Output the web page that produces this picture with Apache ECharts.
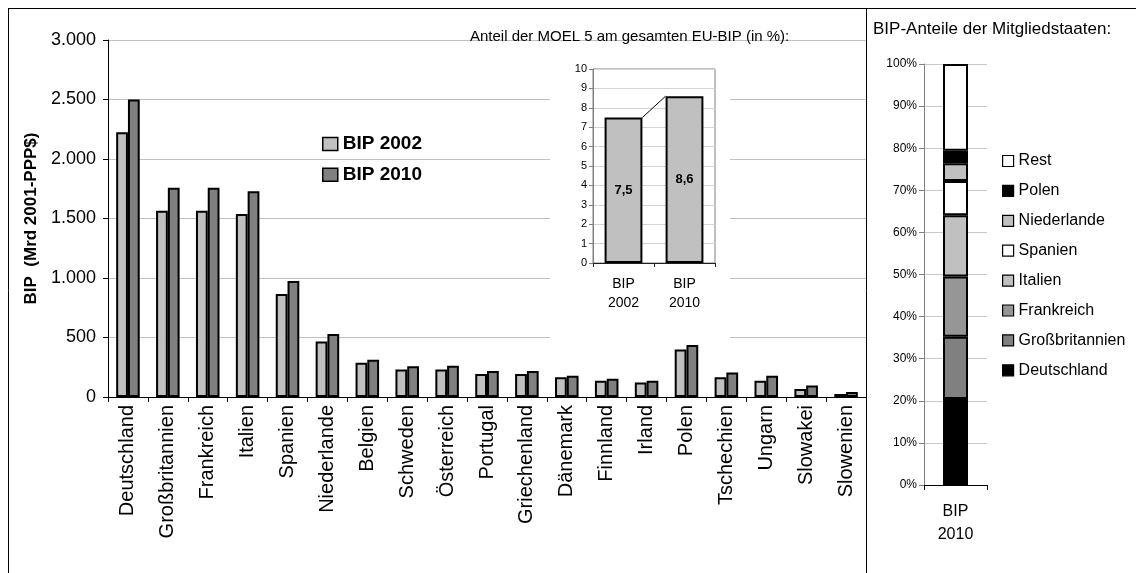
<!DOCTYPE html>
<html>
<head>
<meta charset="utf-8">
<script src="https://cdn.jsdelivr.net/npm/echarts@6/dist/echarts.min.js"></script>
<style>
html,body{margin:0;padding:0;background:#fff;}
#chart{width:1136px;height:573px;}
</style>
</head>
<body>
<div id="chart"></div>
<script>
// ---- data ----
const categories = ['Deutschland','Großbritannien','Frankreich','Italien','Spanien','Niederlande','Belgien','Schweden','Österreich','Portugal','Griechenland','Dänemark','Finnland','Irland','Polen','Tschechien','Ungarn','Slowakei','Slowenien'];
const bip2002 = [2225,1566,1566,1538,865,466,287,231,231,193,193,167,136,122,399,167,136,67,25];
const bip2010 = [2500,1759,1759,1730,974,530,312,259,262,218,218,178,153,136,438,206,178,97,42];
const seriesNames = ['BIP 2002','BIP 2010'];

const insetTitle = 'Anteil der MOEL 5 am gesamten EU-BIP (in %):';
const insetCategories = ['BIP\n2002','BIP\n2010'];
const insetValues = [7.5, 8.6];

const shareTitle = 'BIP-Anteile der Mitgliedstaaten:';
const shareCategory = ['BIP\n2010'];
const shareNames = ['Deutschland','Großbritannien','Frankreich','Italien','Spanien','Niederlande','Polen','Rest'];
const shareValues = [20.4,14.8,14.3,14.6,8.1,4.2,3.0,20.6];
const shareColors = ['#000000','#808080','#969696','#c0c0c0','#ffffff','#c0c0c0','#000000','#ffffff'];

const yAxisName = 'BIP  (Mrd 2001-PPP$)';

// ---- chart ----
const FONT = '"Liberation Sans", Arial, sans-serif';
const chart = echarts.init(document.getElementById('chart'), null, {renderer:'canvas'});
const insetGap = 0.38;

const shareSeries = shareNames.map((n, i) => ({
  name: n,
  type: 'bar',
  stack: 'share',
  xAxisIndex: 2,
  yAxisIndex: 2,
  barWidth: 25,
  data: [shareValues[i]],
  itemStyle: {color: shareColors[i], borderColor: '#000', borderWidth: 2},
  emphasis: {disabled: true}
}));

const option = {
  animation: false,
  backgroundColor: '#fff',
  textStyle: {fontFamily: FONT, color: '#000'},
  title: [
    {text: insetTitle, left: 465, top: 24, textStyle: {fontFamily: FONT, fontSize: 15, fontWeight: 'normal', color: '#000'}},
    {text: shareTitle, left: 868, top: 16, textStyle: {fontFamily: FONT, fontSize: 17, fontWeight: 'normal', color: '#000'}}
  ],
  legend: [
    {
      data: seriesNames, orient: 'vertical', left: 317, top: 129,
      itemWidth: 15, itemHeight: 13, itemGap: 10.7, icon: 'rect',
      selectedMode: false,
      itemStyle: {borderWidth: 1.5},
      textStyle: {fontFamily: FONT, fontSize: 19, fontWeight: 'bold', color: '#000', lineHeight: 20}
    },
    {
      data: shareNames.slice().reverse(), orient: 'vertical', left: 997, top: 148,
      itemWidth: 11, itemHeight: 11, itemGap: 13.9, icon: 'rect',
      selectedMode: false,
      itemStyle: {borderWidth: 1.2},
      textStyle: {fontFamily: FONT, fontSize: 16, color: '#000', lineHeight: 16}
    }
  ],
  grid: [
    {left: 108, top: 40, width: 758, height: 357},
    {left: 593, top: 69, width: 122, height: 194, show: true, borderColor: '#808080', borderWidth: 1, backgroundColor: 'rgba(0,0,0,0)', z: 5},
    {left: 924, top: 64, width: 63, height: 421}
  ],
  xAxis: [
    {
      type: 'category', gridIndex: 0, data: categories, z: 0,
      axisLine: {lineStyle: {color: '#000', width: 1}},
      axisTick: {show: true, length: 5, interval: 0, lineStyle: {color: '#000'}},
      axisLabel: {interval: 0, rotate: 90, fontSize: 20, margin: 8, color: '#000', fontFamily: FONT},
      splitLine: {show: false}
    },
    {
      type: 'category', gridIndex: 1, data: insetCategories, z: 6,
      axisLine: {lineStyle: {color: '#202020', width: 1}},
      axisTick: {show: true, length: 4, interval: 0, lineStyle: {color: '#202020'}},
      axisLabel: {interval: 0, fontSize: 14, lineHeight: 19, margin: 12, color: '#000', fontFamily: FONT},
      splitLine: {show: false}
    },
    {
      type: 'category', gridIndex: 2, data: shareCategory, z: 0,
      axisLine: {lineStyle: {color: '#000', width: 1}},
      axisTick: {show: true, length: 5, interval: 0, lineStyle: {color: '#000'}},
      axisLabel: {interval: 0, fontSize: 16, lineHeight: 23, margin: 15, color: '#000', fontFamily: FONT},
      splitLine: {show: false}
    }
  ],
  yAxis: [
    {
      type: 'value', gridIndex: 0, min: 0, max: 3000, interval: 500, z: 0,
      name: yAxisName, nameLocation: 'middle', nameGap: 68,
      nameTextStyle: {fontFamily: FONT, fontSize: 17, fontWeight: 'bold', color: '#000'},
      axisLine: {show: true, lineStyle: {color: '#000', width: 1}},
      axisTick: {show: true, length: 5, lineStyle: {color: '#000'}},
      axisLabel: {fontSize: 18, margin: 12, color: '#000', fontFamily: FONT,
        formatter: v => v >= 1000 ? Math.floor(v/1000) + '.' + String(v % 1000).padStart(3, '0') : String(v)},
      splitLine: {show: true, lineStyle: {color: '#c0c0c0', width: 1}}
    },
    {
      type: 'value', gridIndex: 1, min: 0, max: 10, interval: 1, z: 6,
      axisLine: {show: true, lineStyle: {color: '#808080', width: 1}},
      axisTick: {show: true, length: 4, lineStyle: {color: '#808080'}},
      axisLabel: {fontSize: 11, margin: 6, color: '#000', fontFamily: FONT},
      splitLine: {show: true, lineStyle: {color: '#d4d4d4', width: 1}}
    },
    {
      type: 'value', gridIndex: 2, min: 0, max: 100, interval: 10, z: 0,
      axisLine: {show: true, lineStyle: {color: '#808080', width: 1}},
      axisTick: {show: true, length: 5, lineStyle: {color: '#808080'}},
      axisLabel: {fontSize: 12, margin: 7, color: '#000', fontFamily: FONT, formatter: '{value}%'},
      splitLine: {show: true, lineStyle: {color: '#c8c8c8', width: 1}}
    }
  ],
  series: [
    {
      name: seriesNames[0], type: 'bar', xAxisIndex: 0, yAxisIndex: 0,
      data: bip2002, barGap: '0%', barCategoryGap: '41%',
      itemStyle: {color: '#c0c0c0', borderColor: '#000', borderWidth: 2},
      emphasis: {disabled: true}
    },
    {
      name: seriesNames[1], type: 'bar', xAxisIndex: 0, yAxisIndex: 0,
      data: bip2010, barGap: '0%', barCategoryGap: '41%',
      itemStyle: {color: '#808080', borderColor: '#000', borderWidth: 2},
      emphasis: {disabled: true}
    },
    {
      name: 'inset', type: 'bar', xAxisIndex: 1, yAxisIndex: 1, z: 7,
      data: insetValues, barCategoryGap: (insetGap * 100) + '%',
      itemStyle: {color: '#c0c0c0', borderColor: '#000', borderWidth: 2},
      label: {show: true, position: 'inside', fontFamily: FONT, fontSize: 13, fontWeight: 'bold', color: '#000',
        formatter: p => p.value.toFixed(1).replace('.', ',')},
      emphasis: {disabled: true}
    },
    {
      name: 'insetLine', type: 'custom', xAxisIndex: 1, yAxisIndex: 1, z: 8,
      data: [[0, insetValues[0], 1, insetValues[1]]],
      renderItem: function (params, api) {
        const p1 = api.coord([api.value(0), api.value(1)]);
        const p2 = api.coord([api.value(2), api.value(3)]);
        const half = api.size([1, 0])[0] * (1 - insetGap) / 2;
        return {type: 'line', shape: {x1: p1[0] + half, y1: p1[1], x2: p2[0] - half, y2: p2[1]},
          style: {stroke: '#000', lineWidth: 1}};
      },
      silent: true
    }
  ].concat(shareSeries),
  graphic: [
    {type: 'rect', z: 1, shape: {x: 550, y: 45, width: 180, height: 297}, style: {fill: '#fff'}, silent: true},
    {type: 'line', z: 20, shape: {x1: 8, y1: 8.5, x2: 1136, y2: 8.5}, style: {stroke: '#000', lineWidth: 1}},
    {type: 'line', z: 20, shape: {x1: 8.5, y1: 8, x2: 8.5, y2: 573}, style: {stroke: '#000', lineWidth: 1}},
    {type: 'line', z: 20, shape: {x1: 866.5, y1: 8, x2: 866.5, y2: 573}, style: {stroke: '#000', lineWidth: 1}}
  ]
};
chart.setOption(option);
</script>
</body>
</html>
